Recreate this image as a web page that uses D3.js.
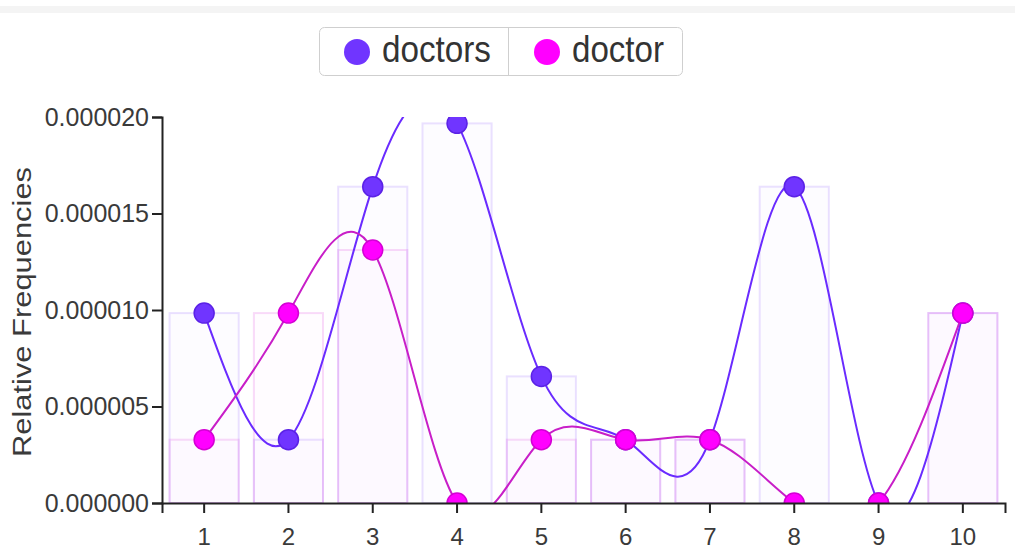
<!DOCTYPE html>
<html>
<head>
<meta charset="utf-8">
<script src="https://cdn.jsdelivr.net/npm/d3@7"></script>
<style>
  html, body { margin: 0; padding: 0; background: #fff; }
  svg { display: block; font-family: Arial, "Liberation Sans", sans-serif; }
</style>
</head>
<body>
<svg id="chart" width="1015" height="552"></svg>
<script>
const categories = ["1", "2", "3", "4", "5", "6", "7", "8", "9", "10"];
const seriesNames = ["doctors", "doctor"];
const doctorsValues = [9.84e-6, 3.28e-6, 16.39e-6, 19.67e-6, 6.56e-6, 3.28e-6, 3.28e-6, 16.39e-6, 0, 9.84e-6];
const doctorValues = [3.28e-6, 9.84e-6, 13.11e-6, 0, 3.28e-6, 3.28e-6, 3.28e-6, 0, 0, 9.84e-6];
const yTicks = [0, 0.000005, 0.00001, 0.000015, 0.00002];
const yLabel = "Relative Frequencies";

const seriesColors = {
  doctors: { fill: "#7035ff", stroke: "#5b22e6", line: "#6a2bff", barFill: "rgba(112,53,255,0.015)", barStroke: "rgba(112,53,255,0.14)" },
  doctor:  { fill: "#ff00ff", stroke: "#d400d4", line: "#c81ec8", barFill: "rgba(230,0,230,0.012)", barStroke: "rgba(210,0,210,0.14)" }
};
const series = [
  { name: seriesNames[0], values: doctorsValues },
  { name: seriesNames[1], values: doctorValues }
];

const svg = d3.select("#chart");
const mLeft = 162, mRight = 1005, mTop = 117, mBottom = 503;

// top strip
svg.append("rect").attr("x", 0).attr("y", 6).attr("width", 1015).attr("height", 7).attr("fill", "#f4f4f4");

const x = d3.scaleBand().domain(categories).range([mLeft, mRight]).paddingInner(0.18).paddingOuter(0.09);
const y = d3.scaleLinear().domain([0, 0.00002]).range([mBottom, mTop]);

svg.append("defs").append("clipPath").attr("id", "plotclip")
  .append("rect").attr("x", mLeft).attr("y", mTop).attr("width", mRight - mLeft).attr("height", mBottom - mTop);

const plot = svg.append("g").attr("clip-path", "url(#plotclip)");

// bars
series.forEach(s => {
  plot.append("g").selectAll("rect").data(s.values).join("rect")
    .attr("x", (d, i) => x(categories[i]))
    .attr("y", d => y(d))
    .attr("width", x.bandwidth())
    .attr("height", d => y(0) - y(d))
    .attr("fill", seriesColors[s.name].barFill)
    .attr("stroke", seriesColors[s.name].barStroke)
    .attr("stroke-width", 2);
});

const line = d3.line()
  .x((d, i) => x(categories[i]) + x.bandwidth() / 2)
  .y(d => y(d))
  .curve(d3.curveNatural);

series.forEach(s => {
  plot.append("path").datum(s.values)
    .attr("d", line)
    .attr("fill", "none")
    .attr("stroke", seriesColors[s.name].line)
    .attr("stroke-width", 2);
  plot.append("g").selectAll("circle").data(s.values).join("circle")
    .attr("cx", (d, i) => x(categories[i]) + x.bandwidth() / 2)
    .attr("cy", d => y(d))
    .attr("r", 10)
    .attr("fill", seriesColors[s.name].fill)
    .attr("stroke", seriesColors[s.name].stroke)
    .attr("stroke-width", 1.5);
});

// axes
const xAxis = svg.append("g").attr("transform", `translate(0,${mBottom})`)
  .call(d3.axisBottom(x).tickSize(10).tickPadding(15));
const yAxis = svg.append("g").attr("transform", `translate(${mLeft},0)`)
  .call(d3.axisLeft(y).tickValues(yTicks).tickFormat(d3.format(".6f")).tickSize(10).tickPadding(3));

[xAxis, yAxis].forEach(a => {
  a.select(".domain").attr("stroke", "#222").attr("stroke-width", 2);
  a.selectAll(".tick line").attr("stroke", "#222").attr("stroke-width", 2);
  a.selectAll(".tick text").attr("fill", "#3a3a3a").style("font-size", "24px").style("font-family", "Arial, 'Liberation Sans', sans-serif");
});
yAxis.selectAll(".tick text").style("font-size", "25px");

svg.append("text")
  .attr("transform", `translate(31,312) rotate(-90)`)
  .attr("text-anchor", "middle")
  .attr("fill", "#3a3a3a")
  .style("font-size", "26px")
  .attr("textLength", 290)
  .attr("lengthAdjust", "spacingAndGlyphs")
  .text(yLabel);

// legend
const legend = svg.append("g");
legend.append("rect").attr("x", 319.5).attr("y", 27.5).attr("width", 363).attr("height", 48)
  .attr("rx", 5).attr("fill", "#fff").attr("stroke", "#cfcfcf").attr("stroke-width", 1);
legend.append("line").attr("x1", 508.5).attr("x2", 508.5).attr("y1", 28).attr("y2", 75).attr("stroke", "#cfcfcf");
const legendItems = [
  { name: seriesNames[0], cx: 357, tx: 382, tl: 109 },
  { name: seriesNames[1], cx: 547, tx: 572, tl: 92 }
];
legendItems.forEach(it => {
  legend.append("circle").attr("cx", it.cx).attr("cy", 52).attr("r", 13)
    .attr("fill", seriesColors[it.name].fill);
  legend.append("text").attr("x", it.tx).attr("y", 62)
    .attr("fill", "#333").style("font-size", "37px")
    .attr("textLength", it.tl).attr("lengthAdjust", "spacingAndGlyphs")
    .text(it.name);
});
</script>
</body>
</html>
